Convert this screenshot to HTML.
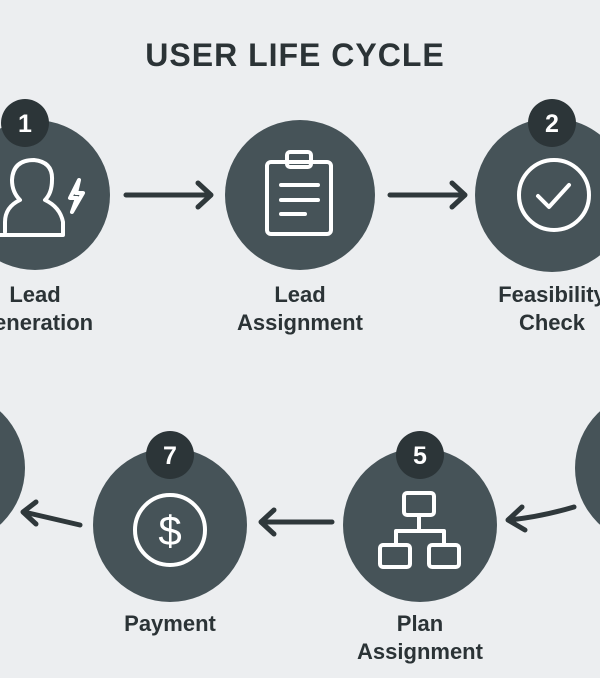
<!DOCTYPE html>
<html><head><style>
body{margin:0;background:#eceef0;}
svg{display:block}
text{font-family:"Liberation Sans",sans-serif;}
</style></head><body>
<svg width="600" height="678" viewBox="0 0 600 678">
<rect width="600" height="678" fill="#eceef0"/>
<text x="295" y="66" text-anchor="middle" font-size="32" font-weight="bold" fill="#2b3336" letter-spacing="1">USER LIFE CYCLE</text>
<g fill="#465358">
<circle cx="35" cy="195" r="75"/>
<circle cx="300" cy="195" r="75"/>
<circle cx="552" cy="195" r="77"/>
<circle cx="-52" cy="468" r="77"/>
<circle cx="170" cy="525" r="77"/>
<circle cx="420" cy="525" r="77"/>
<circle cx="652" cy="468" r="77"/>
</g>
<g fill="#2c3538">
<circle cx="25" cy="123" r="24"/>
<circle cx="552" cy="123" r="24"/>
<circle cx="170" cy="455" r="24"/>
<circle cx="420" cy="455" r="24"/>
</g>
<g fill="#fff" font-size="25" font-weight="bold" text-anchor="middle">
<text x="25" y="132">1</text><text x="552" y="132">2</text>
<text x="170" y="464">7</text><text x="420" y="464">5</text>
</g>
<g fill="none" stroke="#2f383b" stroke-width="5" stroke-linecap="round" stroke-linejoin="round">
<path d="M126 195H210M198 183L211 195L198 207"/>
<path d="M390 195H464M452 183L465 195L452 207"/>
<path d="M332 522H262M274 510L261 522L274 534"/>
<path d="M574 507Q540 517 509 520M522 507L508 520L525 530"/>
<path d="M80 525Q50 518 24 512M36 502L23 512L36 524"/>
</g>
<g fill="none" stroke="#fff" stroke-width="4" stroke-linecap="round" stroke-linejoin="round">
<path d="M5 232V222Q5 207 20 200Q12 192 12 180Q13 160 34 160Q53 162 52 180Q52 193 45 200Q60 207 63 222V235H0"/>
<path d="M79 180L70 198H77L72 212L83 193H76Z"/>
<rect x="267" y="162" width="64" height="72" rx="4"/>
<rect x="287" y="152" width="24" height="15" rx="3"/>
<path d="M281 185H318M281 200H318M281 214H305"/>
<circle cx="554" cy="195" r="35"/>
<path d="M538 196L549 207L569 185"/>
<circle cx="170" cy="530" r="35"/>
<rect x="404" y="493" width="30" height="22" rx="3"/>
<path d="M419 515V531M396 545V531H444V545"/>
<rect x="380" y="545" width="30" height="22" rx="3"/>
<rect x="429" y="545" width="30" height="22" rx="3"/>
</g>
<text x="170" y="545" text-anchor="middle" font-size="42" fill="#fff">$</text>
<g fill="#2b3336" font-size="22" font-weight="bold" text-anchor="middle">
<text x="35" y="302">Lead</text><text x="35" y="330">Generation</text>
<text x="300" y="302">Lead</text><text x="300" y="330">Assignment</text>
<text x="552" y="302">Feasibility</text><text x="552" y="330">Check</text>
<text x="-58" y="600">Activation</text>
<text x="170" y="631">Payment</text>
<text x="420" y="631">Plan</text><text x="420" y="659">Assignment</text>
<text x="658" y="603">Activation</text>
</g>
</svg>
</body></html>
